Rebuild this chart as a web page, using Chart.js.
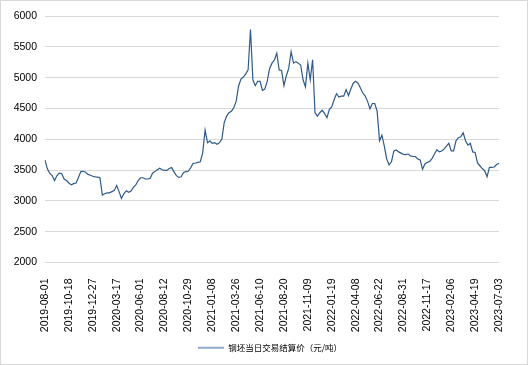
<!DOCTYPE html>
<html>
<head>
<meta charset="utf-8">
<script src="https://cdn.jsdelivr.net/npm/chart.js@4/dist/chart.umd.min.js"></script>
<style>
  html, body { margin: 0; padding: 0; background: #fff; }
  .box { width: 528px; height: 365px; box-sizing: border-box; border: 1px solid #d9d9d9; }
  canvas { display: block; }
</style>
</head>
<body>
<div class="box"><canvas id="chart" width="526" height="363"></canvas></div>
<script>
// tick dates shown on the x axis (one every 10 samples)
const tickDates = [
  '2019-08-01', '2019-10-18', '2019-12-27', '2020-03-17', '2020-06-01',
  '2020-08-12', '2020-10-29', '2021-01-08', '2021-03-26', '2021-06-10',
  '2021-08-20', '2021-11-09', '2022-01-19', '2022-04-08', '2022-06-22',
  '2022-08-31', '2022-11-17', '2023-02-06', '2023-04-19', '2023-07-03'
];
const samplesPerTick = 10;

// 钢坯当日交易结算价 (元/吨)
const price = [
  3660, 3520, 3445, 3410, 3330, 3410, 3450, 3440, 3355, 3330,
  3290, 3260, 3280, 3290, 3380, 3475, 3480, 3465, 3430, 3415,
  3400, 3390, 3385, 3375, 3095, 3115, 3130, 3130, 3150, 3170,
  3250, 3150, 3040, 3115, 3165, 3140, 3160, 3220, 3260, 3330,
  3375, 3375, 3355, 3355, 3365, 3450, 3475, 3505, 3530, 3505,
  3495, 3495, 3525, 3540, 3470, 3410, 3380, 3390, 3460, 3475,
  3485, 3540, 3610, 3615, 3625, 3635, 3780, 4150, 3945, 3970,
  3935, 3945, 3920, 3945, 4000, 4270, 4375, 4430, 4455, 4510,
  4615, 4860, 4975, 5010, 5060, 5125, 5780, 4965, 4870, 4940,
  4940, 4795, 4815, 4940, 5150, 5235, 5285, 5395, 5125, 5115,
  4870, 5030, 5150, 5420, 5235, 5260, 5235, 5205, 4965, 4850,
  5235, 4965, 5290, 4430, 4375, 4430, 4470, 4420, 4350, 4485,
  4525, 4640, 4740, 4685, 4700, 4700, 4805, 4710, 4815, 4910,
  4940, 4910, 4830, 4750, 4700, 4615, 4495, 4580, 4580, 4455,
  3975, 4065, 3890, 3680, 3585, 3635, 3810, 3825, 3795, 3775,
  3755, 3750, 3760, 3730, 3720, 3720, 3680, 3665, 3515, 3600,
  3625, 3640, 3690, 3760, 3830, 3795, 3810, 3840, 3890, 3935,
  3810, 3810, 3975, 4025, 4040, 4105, 3975, 3905, 3935, 3795,
  3785, 3615, 3570, 3525, 3490, 3390, 3545, 3545, 3550, 3590,
  3610
];

const yTicks = [2000, 2500, 3000, 3500, 4000, 4500, 5000, 5500, 6000];

const labels = price.map((_, i) => (i % samplesPerTick === 0 ? tickDates[i / samplesPerTick] : ''));

// the original legend sits a bit right of the canvas centre
const legendShift = {
  id: 'legendShift',
  afterLayout(chart) {
    chart.legend.left += 20;
    chart.legend.right += 20;
  },
};

const ctx = document.getElementById('chart').getContext('2d');
new Chart(ctx, {
  type: 'line',
  data: {
    labels,
    datasets: [{
      label: '钢坯当日交易结算价（元/吨）',
      data: price,
      borderColor: '#2f5a8b',
      backgroundColor: '#2f5a8b',
      borderWidth: 1.2,
      pointRadius: 0,
      tension: 0,
    }],
  },
  plugins: [legendShift],
  options: {
    animation: false,
    responsive: false,
    layout: { padding: { top: 15, right: 28, left: 0, bottom: 2 } },
    plugins: {
      tooltip: { enabled: false },
      legend: {
        position: 'bottom',
        labels: {
          font: { family: '"Noto Sans CJK SC", sans-serif', size: 8.5 },
          color: '#000',
          boxWidth: 26,
          boxHeight: 2,
          padding: 8,
          generateLabels(chart) {
            const items = Chart.defaults.plugins.legend.labels.generateLabels(chart);
            items.forEach(it => { it.fillStyle = '#8eaacb'; it.strokeStyle = '#8eaacb'; it.lineWidth = 0; });
            return items;
          },
        },
      },
    },
    scales: {
      x: {
        grid: { display: false },
        border: { display: false },
        ticks: {
          autoSkip: false,
          minRotation: 90,
          maxRotation: 90,
          padding: 8,
          color: '#000',
          font: { family: '"Liberation Sans", Arial, sans-serif', size: 10.5 },
        },
        afterFit(scale) { scale.height = 73; },
      },
      y: {
        min: 2000,
        max: 6000,
        afterBuildTicks(scale) { scale.ticks = yTicks.map(v => ({ value: v })); },
        grid: { color: '#d9d9d9', drawTicks: false, lineWidth: 1 },
        border: { display: false },
        ticks: {
          padding: 8,
          color: '#000',
          font: { family: '"Liberation Sans", Arial, sans-serif', size: 10.5 },
          callback: v => String(v),
        },
        afterFit(scale) { scale.width = 44; },
      },
    },
  },
});
</script>
</body>
</html>
